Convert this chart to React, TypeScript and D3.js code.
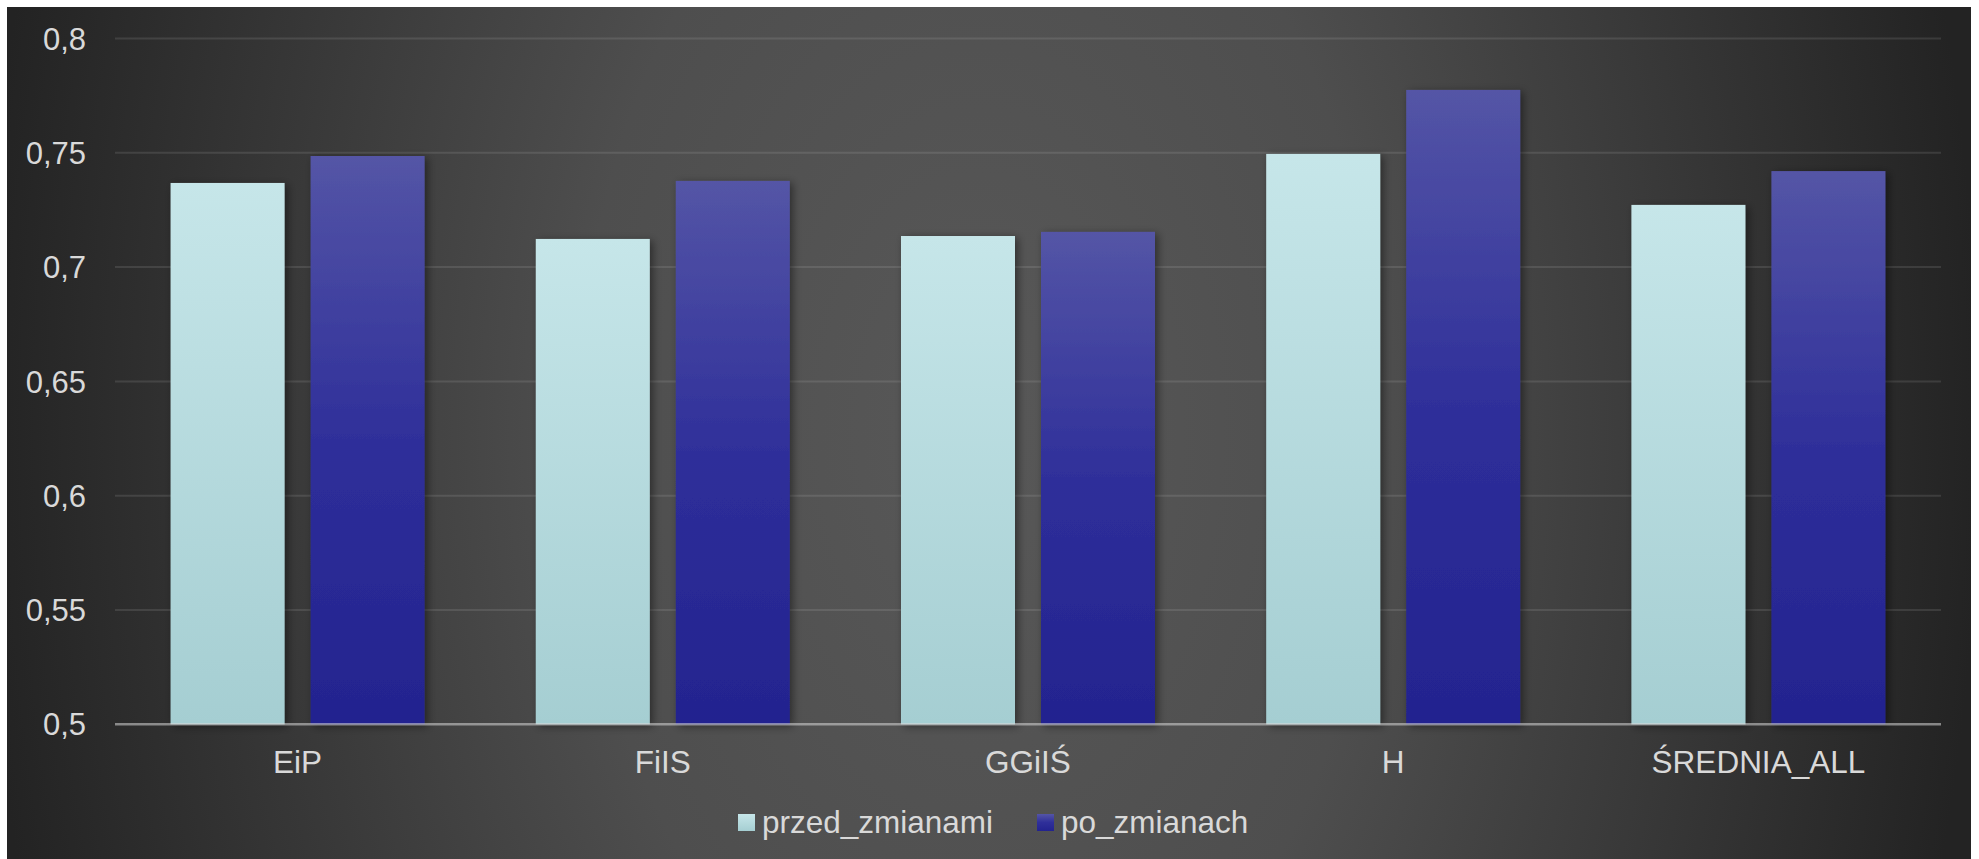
import React from "react";
import * as d3 from "d3";

const categories = ["EiP", "FiIS", "GGiIŚ", "H", "ŚREDNIA_ALL"];
const seriesNames = ["przed_zmianami", "po_zmianach"];
const przedZmianami = [0.7368, 0.7123, 0.7136, 0.7495, 0.7272];
const poZmianach = [0.7486, 0.7377, 0.7154, 0.7775, 0.742];
const yTicks = [0.5, 0.55, 0.6, 0.65, 0.7, 0.75, 0.8];
const tickLabels = ["0,5", "0,55", "0,6", "0,65", "0,7", "0,75", "0,8"];

const W = 1979;
const H = 859;
const FONT = "'Liberation Sans', Arial, sans-serif";
const TEXT = "#d9d9d9";

export default function App() {
  const x0 = d3
    .scaleBand<string>()
    .domain(categories)
    .range([115, 1941])
    .paddingInner(0.3045)
    .paddingOuter(0.1522);
  const x1 = d3
    .scaleBand<string>()
    .domain(seriesNames)
    .range([0, x0.bandwidth()])
    .paddingInner(0.1857)
    .paddingOuter(0);
  const y = d3.scaleLinear().domain([0.5, 0.8]).range([724.3, 38.5]);
  const values = [przedZmianami, poZmianach];
  const fills = ["url(#gLight)", "url(#gDark)"];

  return (
    <svg
      width={W}
      height={H}
      style={{ position: "absolute", left: 0, top: 0, background: "#fff" }}
    >
      <defs>
        <radialGradient
          id="bg"
          gradientUnits="userSpaceOnUse"
          cx={980}
          cy={430}
          r={1000}
          gradientTransform="translate(980 430) scale(1 1.6) translate(-980 -430)"
        >
          <stop offset="0" stopColor="#585858" />
          <stop offset="0.4" stopColor="#4e4e4e" />
          <stop offset="1" stopColor="#232323" />
        </radialGradient>
        <linearGradient id="gLight" x1="0" y1="0" x2="0" y2="1">
          <stop offset="0" stopColor="#c6e6e9" />
          <stop offset="1" stopColor="#a5ced2" />
        </linearGradient>
        <linearGradient id="gDark" x1="0" y1="0" x2="0" y2="1">
          <stop offset="0" stopColor="#5455a6" />
          <stop offset="0.5" stopColor="#2f2f9a" />
          <stop offset="1" stopColor="#23238f" />
        </linearGradient>
        <filter id="shadow" x="-20%" y="-20%" width="140%" height="140%">
          <feDropShadow dx="3" dy="2" stdDeviation="4" floodColor="#000" floodOpacity="0.45" />
        </filter>
      </defs>
      <rect x={7} y={7} width={1964} height={852} fill="url(#bg)" />

      {yTicks.map((t, i) =>
        i === 0 ? null : (
          <line
            key={"g" + i}
            x1={115}
            x2={1941}
            y1={y(t)}
            y2={y(t)}
            stroke="rgba(217,217,217,0.13)"
            strokeWidth={2}
          />
        )
      )}
      {yTicks.map((t, i) => (
        <text
          key={"t" + i}
          x={86}
          y={y(t)}
          dy="0.36em"
          textAnchor="end"
          fontFamily={FONT}
          fontSize={31}
          fill={TEXT}
        >
          {tickLabels[i]}
        </text>
      ))}

      {categories.map((c, ci) => (
        <g key={c} transform={`translate(${x0(c)},0)`}>
          {seriesNames.map((s, si) => {
            const v = values[si][ci];
            return (
              <rect
                key={s}
                x={x1(s)}
                y={y(v)}
                width={x1.bandwidth()}
                height={y(0.5) - y(v)}
                fill={fills[si]}
                filter="url(#shadow)"
              />
            );
          })}
        </g>
      ))}

      <line
        x1={115}
        x2={1941}
        y1={y(0.5)}
        y2={y(0.5)}
        stroke="rgba(217,217,217,0.55)"
        strokeWidth={2.5}
      />

      {categories.map((c) => (
        <text
          key={"c" + c}
          x={(x0(c) as number) + x0.bandwidth() / 2}
          y={773}
          textAnchor="middle"
          fontFamily={FONT}
          fontSize={31.5}
          fill={TEXT}
        >
          {c}
        </text>
      ))}

      {seriesNames.map((s, si) => {
        const sx = si === 0 ? 738 : 1037;
        return (
          <g key={"l" + s}>
            <rect x={sx} y={814} width={17} height={17} fill={fills[si]} />
            <text
              x={sx + 24}
              y={833}
              fontFamily={FONT}
              fontSize={31.5}
              fill={TEXT}
            >
              {s}
            </text>
          </g>
        );
      })}
    </svg>
  );
}
